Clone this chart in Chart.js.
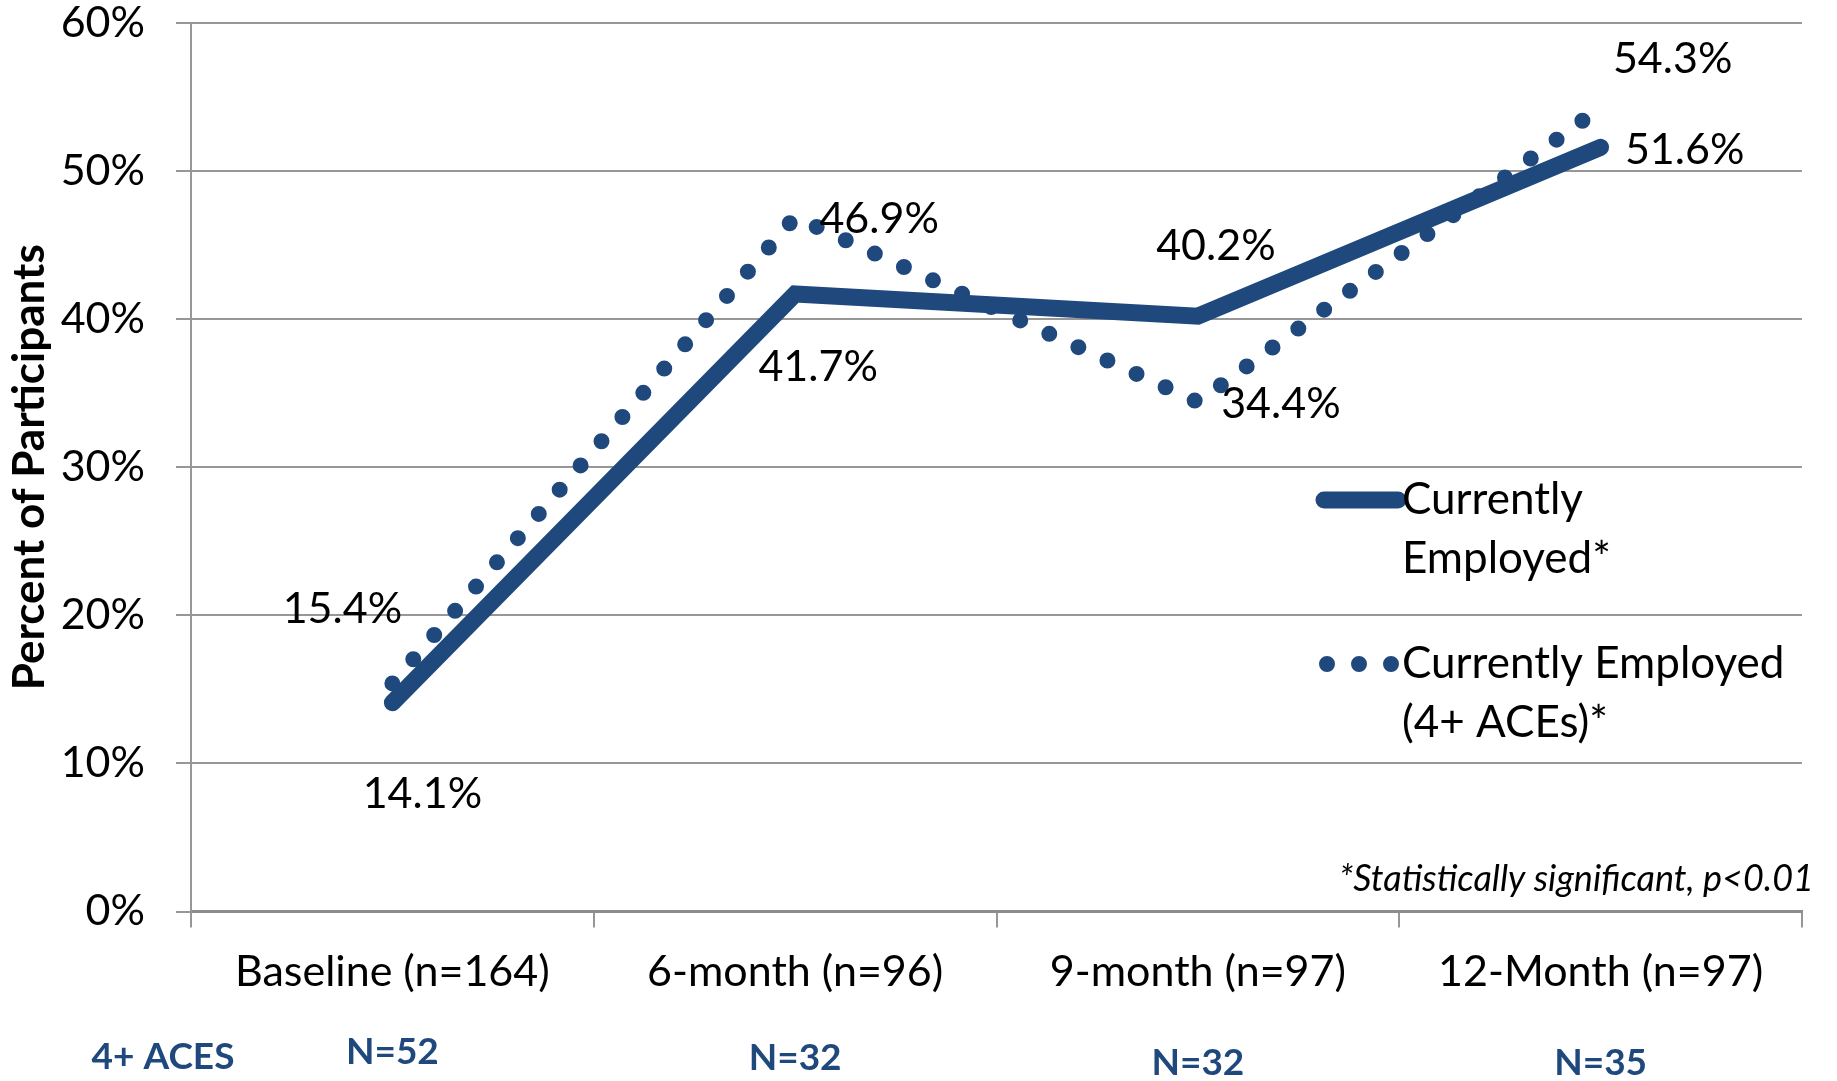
<!DOCTYPE html>
<html><head><meta charset="utf-8">
<script src="https://cdn.jsdelivr.net/npm/chart.js@4.4.1/dist/chart.umd.min.js"></script>
<style>html,body{margin:0;padding:0;background:#fff;}#wrap{width:1837px;height:1081px;position:relative}</style>
</head><body><div id="wrap"><canvas id="c" width="1837" height="1081"></canvas></div>
<script>
const categories = ['Baseline (n=164)', '6-month (n=96)', '9-month (n=97)', '12-Month (n=97)'];
const employedAll = [14.1, 41.7, 40.2, 51.6];
const employedAces = [15.4, 46.9, 34.4, 54.3];
const acesN = ['N=52', 'N=32', 'N=32', 'N=35'];
const acesRowLabel = '4+ ACES';
const seriesNames = [['Currently', 'Employed*'], ['Currently Employed', '(4+ ACEs)*']];
const yTickValues = [0, 10, 20, 30, 40, 50, 60];
const footnote = '*Statistically significant, p<0.01';

const NAVY = '#1F497D';
const GRID = '#979797';
const FONT = 'Lato, "Open Sans", sans-serif';

const pointLabels = {
  id: 'pointLabels',
  afterDatasetsDraw(chart, args, opts) {
    const ctx = chart.ctx;
    ctx.save();
    ctx.font = opts.font;
    ctx.fillStyle = '#000';
    ctx.textAlign = 'center';
    ctx.textBaseline = 'middle';
    chart.data.datasets.forEach((ds, di) => {
      const meta = chart.getDatasetMeta(di);
      meta.data.forEach((pt, i) => {
        const off = opts.offsets[di][i];
        ctx.fillText(ds.data[i].toFixed(1) + '%', pt.x + off[0], pt.y + off[1]);
      });
    });
    ctx.restore();
  }
};

const extras = {
  id: 'extras',
  afterDraw(chart, args, opts) {
    const ctx = chart.ctx;
    chart.data.datasets.forEach((ds, di) => {
      const e = opts.legend[di];
      ctx.save();
      ctx.strokeStyle = ds.borderColor;
      ctx.lineWidth = ds.borderWidth;
      ctx.lineCap = 'round';
      ctx.setLineDash(ds.borderDash || []);
      ctx.beginPath();
      ctx.moveTo(e.x0, e.y);
      ctx.lineTo(e.x1, e.y);
      ctx.stroke();
      ctx.setLineDash([]);
      ctx.font = opts.legendFont;
      ctx.fillStyle = '#000';
      ctx.textAlign = 'left';
      ctx.textBaseline = 'middle';
      seriesNames[di].forEach((line, li) => ctx.fillText(line, e.tx, e.y + li * opts.legendGap));
      ctx.restore();
    });
    ctx.save();
    ctx.font = opts.noteFont;
    ctx.fillStyle = '#000';
    ctx.textAlign = 'right';
    ctx.textBaseline = 'middle';
    ctx.fillText(footnote, opts.noteX, opts.noteY);
    ctx.font = opts.nFont;
    ctx.fillStyle = NAVY;
    ctx.textAlign = 'center';
    ctx.fillText(acesRowLabel, opts.rowLabelX, opts.rowLabelY);
    const xs = chart.scales.x;
    acesN.forEach((t, i) => ctx.fillText(t, xs.getPixelForValue(i), opts.nY[i]));
    ctx.restore();
  }
};

new Chart(document.getElementById('c'), {
  type: 'line',
  data: {
    labels: categories,
    datasets: [
      {
        label: seriesNames[0].join(' '),
        data: employedAll,
        borderColor: NAVY,
        backgroundColor: NAVY,
        borderWidth: 17,
        borderCapStyle: 'round',
        borderJoinStyle: 'miter',
        pointRadius: 0,
        tension: 0,
        fill: false
      },
      {
        label: seriesNames[1].join(' '),
        data: employedAces,
        borderColor: NAVY,
        backgroundColor: NAVY,
        borderWidth: 16,
        borderDash: [0, 32],
        borderCapStyle: 'round',
        pointRadius: 0,
        tension: 0,
        fill: false
      }
    ]
  },
  options: {
    responsive: false,
    animation: false,
    devicePixelRatio: 1,
    layout: { padding: { left: 0, right: 35, top: 23, bottom: 0 } },
    plugins: {
      legend: { display: false },
      tooltip: { enabled: false },
      pointLabels: {
        font: '43px ' + FONT,
        offsets: [
          [[30, 91], [23, 73], [18, -70], [84, 3]],
          [[-50, -74], [84, 2], [83, 2], [72, -48]]
        ]
      },
      extras: {
        legend: [
          { x0: 1324, x1: 1398, y: 500, tx: 1402 },
          { x0: 1327, x1: 1393, y: 664, tx: 1402 }
        ],
        legendGap: 59,
        legendFont: '44px ' + FONT,
        noteFont: 'italic 36px ' + FONT,
        noteX: 1814,
        noteY: 879,
        nFont: 'bold 37px ' + FONT,
        rowLabelX: 163,
        rowLabelY: 1057,
        nY: [1052, 1058, 1063, 1063]
      }
    },
    scales: {
      x: {
        type: 'category',
        offset: true,
        grid: {
          display: true,
          offset: true,
          drawOnChartArea: false,
          drawTicks: true,
          tickLength: 16,
          color: GRID,
          lineWidth: 2
        },
        border: { display: true, color: '#8c8c8c', width: 3 },
        ticks: {
          color: '#000',
          font: { family: FONT, size: 43, lineHeight: 1.2 },
          padding: 19,
          maxRotation: 0,
          autoSkip: false
        },
        afterFit(scale) { scale.height = 1081 - 911.5; scale.paddingLeft = 0; scale.paddingRight = 0; }
      },
      y: {
        min: 0,
        max: 60,
        afterBuildTicks(scale) { scale.ticks = yTickValues.map(v => ({ value: v })); },
        grid: {
          color: GRID,
          lineWidth: 2,
          drawTicks: true,
          tickLength: 15
        },
        border: { display: true, color: GRID, width: 2 },
        ticks: {
          color: '#000',
          font: { family: FONT, size: 43, lineHeight: 1.0 },
          padding: 31,
          callback: v => v + '%'
        },
        title: {
          display: true,
          text: 'Percent of Participants',
          color: '#000',
          font: { family: FONT, size: 44, weight: 'bold', lineHeight: 1.2 },
          padding: { top: 3, bottom: 0 }
        },
        afterFit(scale) { scale.width = 191; scale.paddingTop = 0; scale.paddingBottom = 0; }
      }
    }
  },
  plugins: [pointLabels, extras]
});
</script>
</body></html>
